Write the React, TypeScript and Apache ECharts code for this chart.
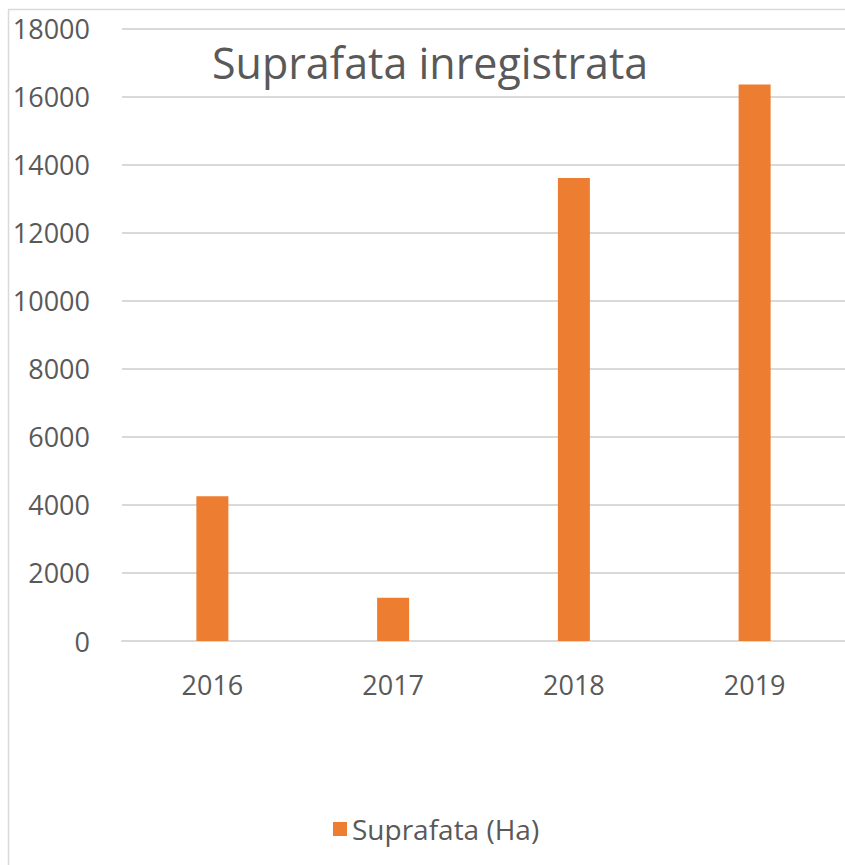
import React, { useEffect, useRef } from "react";
import * as echarts from "echarts";

const categories = ["2016", "2017", "2018", "2019"];
const values = [4250, 1270, 13600, 16350];
const seriesName = "Suprafata (Ha)";
const titleText = "Suprafata inregistrata";

export default function App() {
  const ref = useRef<HTMLDivElement>(null);
  useEffect(() => {
    document.body.style.margin = "0";
    const chart = echarts.init(ref.current!, undefined, { renderer: "svg" });
    const font = "'Open Sans', 'Noto Sans', sans-serif";
    chart.setOption({
      animation: false,
      backgroundColor: "#ffffff",
      title: {
        text: titleText,
        left: 212,
        top: 41,
        padding: 0,
        textStyle: { fontFamily: font, fontSize: 43, fontWeight: "normal", color: "#595959", lineHeight: 43 },
      },
      legend: {
        data: [seriesName],
        left: 333,
        top: 815,
        padding: 0,
        itemWidth: 14,
        itemHeight: 14,
        itemGap: 10,
        icon: "rect",
        textStyle: { fontFamily: font, fontSize: 28, color: "#595959" },
      },
      grid: { left: 122, right: -2, top: 28.3, height: 612.7 },
      xAxis: {
        type: "category",
        data: categories,
        axisLine: { lineStyle: { color: "#d9d9d9", width: 2 } },
        axisTick: { show: false },
        axisLabel: { fontFamily: font, fontSize: 27, color: "#595959", margin: 30 },
      },
      yAxis: {
        type: "value",
        min: 0,
        max: 18000,
        interval: 2000,
        axisLine: { show: false },
        axisTick: { show: false },
        splitLine: { lineStyle: { color: "#d9d9d9", width: 2 } },
        axisLabel: {
          fontFamily: font,
          fontSize: 27,
          color: "#595959",
          align: "right",
          margin: 32,
          formatter: (v: number) => String(v),
        },
      },
      series: [
        {
          name: seriesName,
          type: "bar",
          data: values,
          barWidth: 32,
          itemStyle: { color: "#ed7d31" },
        },
      ],
      graphic: [
        { type: "line", shape: { x1: 8.5, y1: 10, x2: 8.5, y2: 865 }, style: { stroke: "#d9d9d9", lineWidth: 1.5 } },
        { type: "line", shape: { x1: 8, y1: 9.5, x2: 845, y2: 9.5 }, style: { stroke: "#d9d9d9", lineWidth: 1.5 } },
      ],
    });
    return () => chart.dispose();
  }, []);
  return <div ref={ref} style={{ width: 845, height: 865 }} />;
}
